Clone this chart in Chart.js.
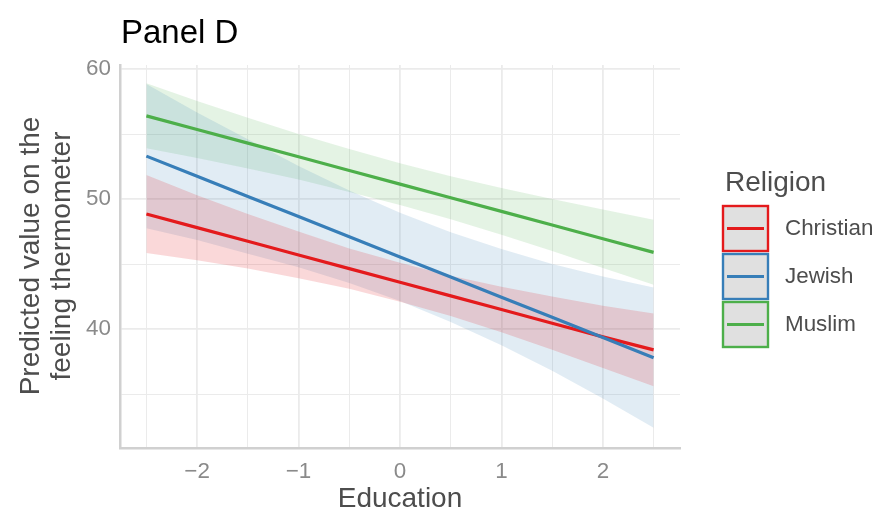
<!DOCTYPE html>
<html lang="en">
<head>
    <meta charset="UTF-8">
    <title>Panel D</title>
    <script src="https://cdn.jsdelivr.net/npm/chart.js"></script>
    <style>
        body { margin: 0; background: #fff; }
        #wrap { width: 878px; height: 514px; }
    </style>
</head>
<body>
    <div id="wrap">
        <canvas id="panelD" width="878" height="514"></canvas>
    </div>
    <script>
        // Education values where predictions were read
        const education = [-2.5, -2, -1.5, -1, -0.5, 0, 0.5, 1, 1.5, 2, 2.5];
        const religions = ['Christian', 'Jewish', 'Muslim'];

        const christianFit = [48.85, 47.8, 46.75, 45.7, 44.65, 43.6, 42.55, 41.5, 40.45, 39.4, 38.4];
        const christianHigh = [51.85, 50.3, 48.85, 47.5, 46.2, 45.1, 44.1, 43.25, 42.5, 41.8, 41.2];
        const christianLow = [45.85, 45.3, 44.65, 43.9, 43.1, 42.1, 41.0, 39.75, 38.4, 37.0, 35.6];

        const jewishFit = [53.3, 51.75, 50.2, 48.65, 47.1, 45.55, 44.0, 42.45, 40.9, 39.35, 37.8];
        const jewishHigh = [58.85, 56.65, 54.6, 52.55, 50.65, 48.95, 47.45, 46.15, 45.0, 44.05, 43.2];
        const jewishLow = [47.75, 46.85, 45.8, 44.75, 43.55, 42.15, 40.55, 38.75, 36.8, 34.65, 32.4];

        const muslimFit = [56.4, 55.35, 54.3, 53.25, 52.2, 51.15, 50.1, 49.05, 48.0, 46.95, 45.9];
        const muslimHigh = [58.9, 57.55, 56.25, 55.0, 53.85, 52.75, 51.75, 50.85, 50.0, 49.2, 48.4];
        const muslimLow = [53.9, 53.15, 52.35, 51.5, 50.55, 49.55, 48.45, 47.25, 46.0, 44.7, 43.4];

        const xTicks = [-2.5, -2, -1.5, -1, -0.5, 0, 0.5, 1, 1.5, 2, 2.5];
        const yTicks = [35, 40, 45, 50, 55, 60];

        const colors = ['#E41A1C', '#377EB8', '#4DAF4A'];
        const fills = ['rgba(228, 26, 28, 0.17)', 'rgba(55, 126, 184, 0.15)', 'rgba(77, 175, 74, 0.15)'];
        const FONT = '"Liberation Sans", Arial, sans-serif';

        const toPts = arr => arr.map((y, i) => ({ x: education[i], y: y }));

        const groups = [
            { fit: christianFit, low: christianLow, high: christianHigh },
            { fit: jewishFit, low: jewishLow, high: jewishHigh },
            { fit: muslimFit, low: muslimLow, high: muslimHigh },
        ];

        const datasets = [];
        groups.forEach((g, i) => {
            // ribbon: upper edge filled down to the next dataset (lower edge)
            datasets.push({
                label: religions[i] + ' upper',
                data: toPts(g.high),
                borderWidth: 0,
                pointRadius: 0,
                backgroundColor: fills[i],
                fill: '+1',
                order: 10,
            });
            datasets.push({
                label: religions[i] + ' lower',
                data: toPts(g.low),
                borderWidth: 0,
                pointRadius: 0,
                fill: false,
                order: 10,
            });
        });
        groups.forEach((g, i) => {
            datasets.push({
                label: religions[i],
                data: toPts(g.fit),
                borderColor: colors[i],
                borderWidth: 3.2,
                pointRadius: 0,
                fill: false,
                order: 3 - i, // later groups on top
            });
        });

        // title, axis titles and legend drawn on the canvas
        const decorations = {
            id: 'decorations',
            afterDraw(chart) {
                const ctx = chart.ctx;
                ctx.save();
                ctx.fillStyle = '#000';
                ctx.font = '33px ' + FONT;
                ctx.textAlign = 'left';
                ctx.textBaseline = 'alphabetic';
                ctx.fillText('Panel D', 121, 43);

                ctx.fillStyle = '#4d4d4d';
                ctx.font = '28px ' + FONT;
                ctx.textAlign = 'center';
                ctx.fillText('Education', 400, 507);

                ctx.save();
                ctx.translate(0, 256);
                ctx.rotate(-Math.PI / 2);
                ctx.textBaseline = 'middle';
                ctx.fillText('Predicted value on the', 0, 31);
                ctx.fillText('feeling thermometer', 0, 62);
                ctx.restore();

                // legend
                ctx.textAlign = 'left';
                ctx.textBaseline = 'alphabetic';
                ctx.font = '28px ' + FONT;
                ctx.fillText('Religion', 725, 191);
                ctx.font = '22.4px ' + FONT;
                ctx.textBaseline = 'middle';
                religions.forEach((r, i) => {
                    const top = 206 + i * 48;
                    ctx.fillStyle = '#e0e0e0';
                    ctx.fillRect(723, top, 45, 45);
                    ctx.strokeStyle = colors[i];
                    ctx.lineWidth = 2.4;
                    ctx.strokeRect(723, top, 45, 45);
                    ctx.beginPath();
                    ctx.moveTo(727, top + 22.5);
                    ctx.lineTo(764, top + 22.5);
                    ctx.lineWidth = 3.2;
                    ctx.stroke();
                    ctx.fillStyle = '#4d4d4d';
                    ctx.fillText(r, 785, top + 23);
                });
                ctx.restore();
            }
        };

        const gridWidth = ctx => (ctx.tick && ctx.tick.major) ? 1.8 : 1.0;

        new Chart(document.getElementById('panelD'), {
            type: 'line',
            data: { datasets: datasets },
            options: {
                responsive: false,
                animation: false,
                devicePixelRatio: 1,
                layout: { padding: { left: 0, top: 65, right: 198, bottom: 0 } },
                plugins: {
                    legend: { display: false },
                    tooltip: { enabled: false },
                    filler: { drawTime: 'beforeDatasetsDraw' },
                },
                scales: {
                    x: {
                        type: 'linear',
                        min: -2.76,
                        max: 2.76,
                        afterFit: s => { s.height = 66; },
                        afterBuildTicks: s => {
                            s.ticks = xTicks.map(v => ({ value: v, major: Number.isInteger(v) }));
                        },
                        ticks: {
                            autoSkip: false,
                            maxRotation: 0,
                            padding: 10,
                            color: '#8a8a8a',
                            font: { family: FONT, size: 22.4 },
                            callback: v => Number.isInteger(v) ? String(v).replace('-', '\u2212') : '',
                        },
                        grid: {
                            color: '#ebebeb',
                            lineWidth: gridWidth,
                            drawTicks: false,
                        },
                        border: { display: true, color: '#d0d0d0', width: 2.5 },
                    },
                    y: {
                        min: 30.85,
                        max: 60.31,
                        afterFit: s => { s.width = 120; },
                        afterBuildTicks: s => {
                            s.ticks = yTicks.map(v => ({ value: v, major: v % 10 === 0 }));
                        },
                        ticks: {
                            autoSkip: false,
                            padding: 9,
                            color: '#8a8a8a',
                            font: { family: FONT, size: 22.4 },
                            callback: v => v % 10 === 0 ? String(v) : '',
                        },
                        grid: {
                            color: '#ebebeb',
                            lineWidth: gridWidth,
                            drawTicks: false,
                        },
                        border: { display: true, color: '#d0d0d0', width: 2.5 },
                    },
                },
            },
            plugins: [decorations],
        });
    </script>
</body>
</html>
